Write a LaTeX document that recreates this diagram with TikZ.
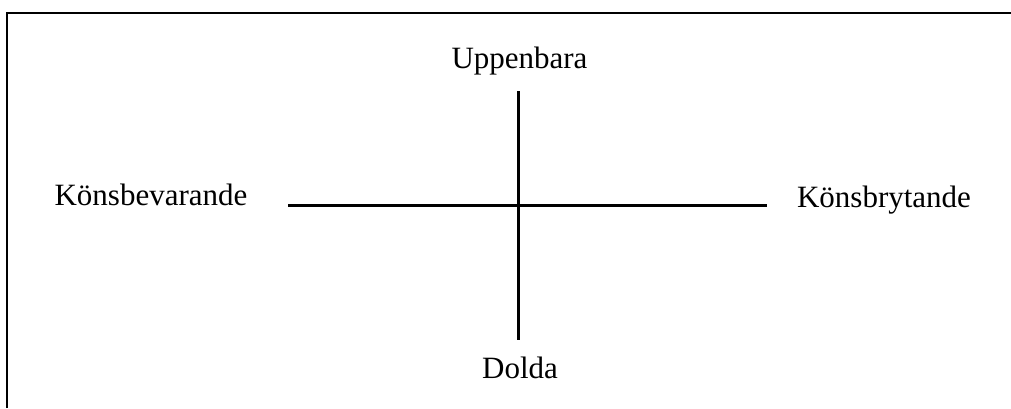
\documentclass[tikz,border=0pt]{standalone}
\usepackage{fontspec}
\setmainfont{Liberation Serif}
\begin{document}
\begin{tikzpicture}[x=0.5pt,y=-0.5pt,
    lbl/.style={anchor=base,inner sep=0pt,font=\fontsize{15.5}{18}\selectfont},
    axis/.style={line width=1.5pt},
    frame/.style={line width=1pt}]
  \useasboundingbox (0,0) rectangle (1011,408);
  \draw[frame] (6.5,408)--(6.5,12.5)--(1011,12.5);
  \node[lbl] (upp) at (519.5,68) {Uppenbara};
  \node[lbl] (dol) at (520,378) {Dolda};
  \node[lbl] (bev) at (151,205) {Könsbevarande};
  \node[lbl] (bry) at (884,207) {Könsbrytande};
  \coordinate (t) at (518,91);
  \coordinate (b) at (518,340);
  \coordinate (l) at (288,205.5);
  \coordinate (r) at (767,205.5);
  \draw[axis] (t)--(b)  (l)--(r);
\end{tikzpicture}
\end{document}
